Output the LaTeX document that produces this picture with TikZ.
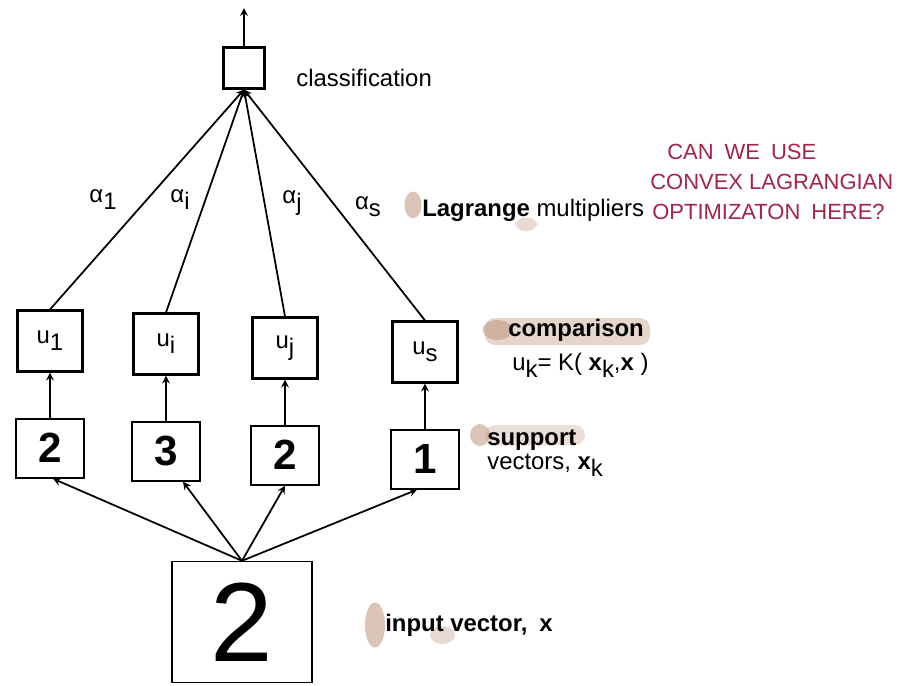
\documentclass[tikz,border=0pt]{standalone}
\usepackage{fontspec}
\setmainfont{Liberation Sans}
\usepackage{xcolor}
\usetikzlibrary{arrows, positioning, calc, backgrounds}
\definecolor{penred}{RGB}{165, 35, 70}
\definecolor{markertan}{RGB}{190, 150, 125}
\newcommand{\lowsub}[1]{\raisebox{-0.55ex}{#1}}

\begin{document}
\begin{tikzpicture}[
        node distance=0.9cm,
        unit/.style={rectangle, draw, very thick, minimum width=1.3cm, minimum height=1.22cm, inner sep=0pt, font=\fontsize{13.6}{16}\selectfont},
        sv/.style={rectangle, draw, very thick, minimum width=1.36cm, minimum height=1.18cm, inner sep=0pt, font=\fontsize{24}{28}\selectfont\bfseries},
        lbl/.style={inner sep=0pt, anchor=west, align=left, font=\fontsize{13.6}{16}\selectfont},
        weight/.style={inner sep=0pt, font=\fontsize{13.6}{16}\selectfont},
        note/.style={inner sep=0pt, anchor=west, text=penred, font=\fontsize{12.5}{15}\selectfont},
        arrow/.style={->, >=stealth, line width=1pt},
        smudge/.style={fill=markertan, opacity=0.55},
    ]
        \useasboundingbox (0,0) rectangle (18.26,-13.7);

        \node[rectangle, draw, very thick, minimum size=0.82cm] (C) at (4.88,-1.36) {};
        \coordinate (Out) at (4.88,-0.16);
        \node[lbl] (Clab) at (5.92,-1.56) {classification};

        \node[unit] (U1) at (1.0,-6.82) {u\lowsub{1}};
        \node[unit] (Ui) at (3.32,-6.88) {u\lowsub{i}};
        \node[unit] (Uj) at (5.70,-6.96) {u\lowsub{j}};
        \node[unit] (Us) at (8.50,-7.04) {u\lowsub{s}};

        \node[sv, below=of U1] (S1) {2};
        \node[sv, below=of Ui] (S2) {3};
        \node[sv, below=of Uj] (S3) {2};
        \node[sv, below=of Us] (S4) {1};

        \node[rectangle, draw, thick, minimum width=2.8cm, minimum height=2.42cm, inner sep=0pt, font=\fontsize{64}{66}\selectfont] (In) at (4.84,-12.44) {2};

        \node[weight] (A1) at (2.06,-4.0) {α\lowsub{1}};
        \node[weight] (Ai) at (3.6,-4.0) {α\lowsub{i}};
        \node[weight] (Aj) at (5.84,-4.06) {α\lowsub{j}};
        \node[weight] (As) at (7.36,-4.14) {α\lowsub{s}};

        \node[lbl] (Lag) at (8.44,-4.2) {\textbf{Lagrange} multipliers};
        \node[lbl] (Cmp) at (10.16,-6.6) {\textbf{comparison}};
        \node[lbl] (Ker) at (10.24,-7.3) {u\lowsub{k}= K( \textbf{x}\lowsub{k},\textbf{x} )};
        \node[lbl] (Sup) at (9.74,-8.8) {\textbf{support}};
        \node[lbl] (Vec) at (9.74,-9.3) {vectors, \textbf{x}\lowsub{k}};
        \node[lbl] (Inp) at (7.7,-12.5) {\textbf{input vector,}\enspace\textbf{x}};

        \node[note] (N1) at (13.34,-3.04) {CAN\enspace WE\enspace USE};
        \node[note] (N2) at (13.0,-3.64) {CONVEX LAGRANGIAN};
        \node[note] (N3) at (13.04,-4.24) {OPTIMIZATON\enspace HERE?};

        \draw[arrow] (C.north) -- (Out);
        \foreach \u in {U1,Ui,Uj,Us}
            \draw[arrow] (\u.north) -- (C.south);
        \foreach \s/\u in {S1/U1,S2/Ui,S3/Uj,S4/Us}
            \draw[arrow] (\s.north) -- (\s.north |- \u.south);
        \draw[arrow] (In.north) -- ([xshift=0.6mm]S1.south);
        \draw[arrow] (In.north) -- ([xshift=3.4mm]S2.south);
        \draw[arrow] (In.north) -- (S3.south);
        \draw[arrow] (In.north) -- ([xshift=-1.6mm]S4.south);

        \begin{scope}[on background layer]
            \fill[smudge] (8.26,-4.1) ellipse (0.17 and 0.27);
            \fill[smudge, opacity=0.35, rounded corners=2mm] (10.3,-4.35) rectangle (10.75,-4.62);
            \fill[smudge, opacity=0.4, rounded corners=2mm] (9.7,-6.36) rectangle (13.0,-6.9);
            \fill[smudge] (9.95,-6.6) ellipse (0.3 and 0.2);
            \fill[smudge] (9.6,-8.7) ellipse (0.2 and 0.22);
            \fill[smudge, opacity=0.3, rounded corners=2mm] (9.7,-8.5) rectangle (11.7,-8.9);
            \fill[smudge] (7.5,-12.5) ellipse (0.2 and 0.45);
            \fill[smudge, opacity=0.35] (8.85,-12.7) ellipse (0.25 and 0.18);
        \end{scope}
    \end{tikzpicture}
\end{document}
